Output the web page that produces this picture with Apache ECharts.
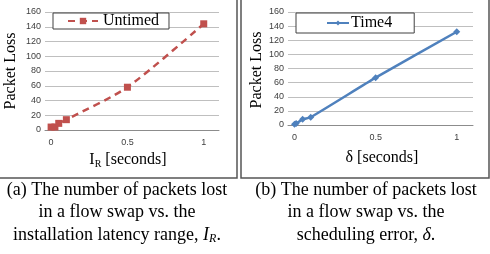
<!DOCTYPE html>
<html><head><meta charset="utf-8">
<script src="https://cdn.jsdelivr.net/npm/echarts@6/dist/echarts.min.js"></script>
<style>html,body{margin:0;padding:0;background:#fff}#c{width:490px;height:254px}</style>
</head><body><div id="c"></div>
<script>
// Data
const untimedX = [0, 0.025, 0.05, 0.1, 0.5, 1];
const untimedY = [4, 4, 9, 14, 58, 144];
const time4X = [0, 0.01, 0.05, 0.1, 0.5, 1];
const time4Y = [1, 2, 8, 11, 67, 132];
const xTicks = [0, 0.5, 1];
const yTicks = [0, 20, 40, 60, 80, 100, 120, 140, 160];
const seriesNames = ['Untimed', 'Time4'];

const chart = echarts.init(document.getElementById('c'), null, {renderer: 'canvas'});
const serif = '"Liberation Serif", "DejaVu Serif", serif';
const sans = '"Liberation Sans", Arial, sans-serif';
const capSize = 18;

function xAxisFor(gi) {
  return {
    gridIndex: gi, type: 'value', min: -0.04, max: 1.1,
    axisLine: {show: true, onZero: false, lineStyle: {color: '#8c8c8c', width: 1}},
    axisTick: {show: false},
    splitLine: {show: false},
    axisLabel: {customValues: xTicks, fontFamily: sans, fontSize: 9, color: '#404040', margin: 8,
      formatter: v => String(Math.round(v * 10) / 10)}
  };
}
function yAxisFor(gi) {
  return {
    gridIndex: gi, type: 'value', min: yTicks[0], max: yTicks[yTicks.length - 1], interval: 20,
    axisLine: {show: false}, axisTick: {show: false},
    splitLine: {show: true, lineStyle: {color: '#bfbfbf', width: 1}},
    axisLabel: {fontFamily: sans, fontSize: 9, color: '#404040', margin: 4}
  };
}
function capText(x, y, t) {
  return {type: 'text', x: x, y: y, style: {text: t, font: capSize + 'px ' + serif, fill: '#000', align: 'center', verticalAlign: 'middle'}};
}

const option = {
  animation: false,
  grid: [
    {left: 45, top: 12, width: 174, height: 118},
    {left: 288, top: 12, width: 185, height: 113}
  ],
  xAxis: [xAxisFor(0), xAxisFor(1)],
  yAxis: [yAxisFor(0), yAxisFor(1)],
  legend: [
    {data: [seriesNames[0]], left: 53, top: 13,
     backgroundColor: '#fff', borderColor: '#404040', borderWidth: 1,
     padding: [0, 10, 0, 14], itemWidth: 30, itemHeight: 8,
     textStyle: {fontFamily: serif, fontSize: 16, color: '#000'}},
    {data: [seriesNames[1]], left: 296, top: 13,
     backgroundColor: '#fff', borderColor: '#404040', borderWidth: 1,
     padding: [2, 22, 2, 30], itemWidth: 22, itemHeight: 6,
     textStyle: {fontFamily: serif, fontSize: 16, color: '#000', padding: [0, 0, 0, -3]}}
  ],
  series: [
    {name: seriesNames[0], type: 'line', xAxisIndex: 0, yAxisIndex: 0,
     data: untimedX.map((x, i) => [x, untimedY[i]]),
     smooth: 0.25, symbol: 'rect', symbolSize: 7,
     lineStyle: {color: '#C0504D', width: 2.5, type: [7, 5]},
     itemStyle: {color: '#C0504D'}},
    {name: seriesNames[1], type: 'line', xAxisIndex: 1, yAxisIndex: 1,
     data: time4X.map((x, i) => [x, time4Y[i]]),
     smooth: 0.15, symbol: 'diamond', symbolSize: 7,
     lineStyle: {color: '#4F81BD', width: 2.5},
     itemStyle: {color: '#4F81BD'}}
  ],
  graphic: [
    {type: 'polyline', shape: {points: [[0, 178], [237, 178], [237, 0]]}, style: {stroke: '#555', lineWidth: 1.5, fill: null}, z: 10},
    {type: 'polyline', shape: {points: [[241, 0], [241, 178], [489, 178], [489, 0]]}, style: {stroke: '#555', lineWidth: 1.5, fill: null}, z: 10},
    {type: 'text', x: 11, y: 71, rotation: Math.PI / 2, style: {text: 'Packet Loss', font: '16px ' + serif, fill: '#000', align: 'center', verticalAlign: 'middle'}},
    {type: 'text', x: 257, y: 70, rotation: Math.PI / 2, style: {text: 'Packet Loss', font: '16px ' + serif, fill: '#000', align: 'center', verticalAlign: 'middle'}},
    {type: 'text', x: 128, y: 160, style: {
      text: '{a|I}{s|R}{a| [seconds]}', align: 'center', verticalAlign: 'middle',
      rich: {a: {fontFamily: serif, fontSize: 16, color: '#000'}, s: {fontFamily: serif, fontSize: 10, color: '#000', padding: [8, 0, 0, 0]}}}},
    {type: 'text', x: 382, y: 158, style: {text: 'δ [seconds]', font: '16px ' + serif, fill: '#000', align: 'center', verticalAlign: 'middle'}},
    capText(117, 190, '(a) The number of packets lost'),
    capText(117, 212, 'in a flow swap vs. the'),
    {type: 'text', x: 117, y: 235, style: {
      text: '{a|installation latency range, }{i|I}{s|R}{a|.}', align: 'center', verticalAlign: 'middle',
      rich: {a: {fontFamily: serif, fontSize: capSize, color: '#000'}, i: {fontFamily: serif, fontSize: capSize, fontStyle: 'italic', color: '#000'}, s: {fontFamily: serif, fontSize: 12, fontStyle: 'italic', color: '#000', padding: [7, 0, 0, 0]}}}},
    capText(366, 190, '(b) The number of packets lost'),
    capText(366, 212, 'in a flow swap vs. the'),
    {type: 'text', x: 366, y: 235, style: {
      text: '{a|scheduling error, }{i|δ}{a|.}', align: 'center', verticalAlign: 'middle',
      rich: {a: {fontFamily: serif, fontSize: capSize, color: '#000'}, i: {fontFamily: serif, fontSize: capSize, fontStyle: 'italic', color: '#000'}}}}
  ]
};
chart.setOption(option);
</script></body></html>
